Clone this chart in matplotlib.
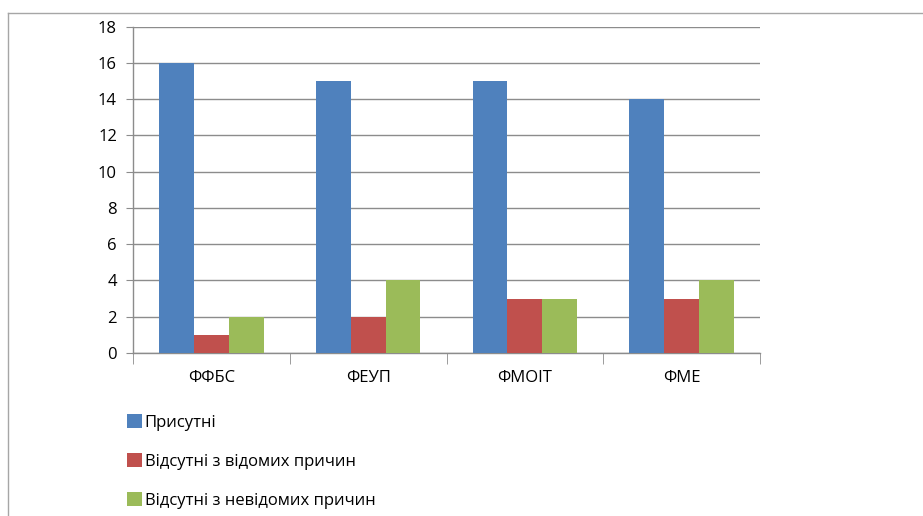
import matplotlib
matplotlib.use("Agg")
import matplotlib.pyplot as plt
from matplotlib.lines import Line2D
import numpy as np

plt.rcParams['font.family'] = ['Open Sans', 'DejaVu Sans']

# Data
categories = ['ФФБС', 'ФЕУП', 'ФМОІТ', 'ФМЕ']
present = [16, 15, 15, 14]
absent_known = [1, 2, 3, 3]
absent_unknown = [2, 4, 3, 4]
series_names = ['Присутні', 'Відсутні з відомих причин', 'Відсутні з невідомих причин']
colors = ['#4F81BD', '#C0504D', '#9BBB59']

W, H = 923, 516
fig = plt.figure(figsize=(W / 100, H / 100), dpi=100)

# plot area in pixels
left, right, top, bottom = 133, 760, 26.7, 353
ax = fig.add_axes([left / W, (H - bottom) / H, (right - left) / W, (bottom - top) / H])

x = np.arange(len(categories))
bw = 0.222
for i, vals in enumerate([present, absent_known, absent_unknown]):
    ax.bar(x + (i - 1) * bw, vals, width=bw, color=colors[i], label=series_names[i], zorder=3)

ax.set_xlim(-0.5, len(categories) - 0.5)
ax.set_ylim(0, 18)
ax.set_yticks(range(0, 19, 2))
ax.set_xticks(x)
ax.set_xticklabels(categories)
ax.set_xticks(np.arange(-0.5, len(categories)), minor=True)

grid_c = '#8c8c8c'
ax.grid(axis='y', color=grid_c, linewidth=1, zorder=0)
for s in ['top', 'right']:
    ax.spines[s].set_visible(False)
for s in ['left', 'bottom']:
    ax.spines[s].set_color(grid_c)
    ax.spines[s].set_linewidth(1)

fs = 12
ax.tick_params(axis='y', length=5, color=grid_c, labelsize=fs, pad=6.5)
ax.tick_params(axis='x', which='major', length=0, labelsize=fs, pad=12)
ax.tick_params(axis='x', which='minor', length=8, color=grid_c)

# legend below the plot
leg = fig.legend(loc='upper left', bbox_to_anchor=(119 / W, 1 - 406 / H),
                 frameon=False, fontsize=fs, handlelength=0.85, handleheight=0.85,
                 handletextpad=0.2, labelspacing=1.36, borderpad=0)

# outer frame of the chart
frame_c = '#a6a6a6'
fig.add_artist(Line2D([8 / W, 1], [1 - 13 / H, 1 - 13 / H], color=frame_c, lw=1, transform=fig.transFigure))
fig.add_artist(Line2D([8 / W, 8 / W], [0, 1 - 13 / H], color=frame_c, lw=1, transform=fig.transFigure))

fig.savefig('out.png', dpi=100)
